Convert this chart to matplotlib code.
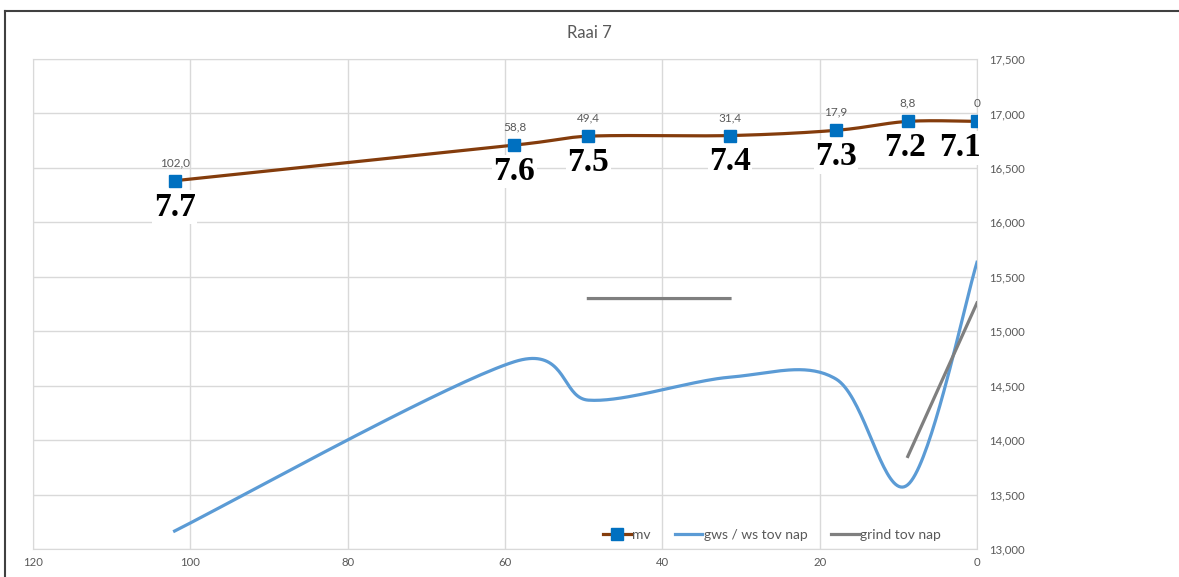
import numpy as np
import matplotlib.pyplot as plt
from matplotlib.lines import Line2D
from matplotlib.ticker import FuncFormatter

# afstand (x) and hoogtes per reeks
afstand = [102.0, 58.8, 49.4, 31.4, 17.9, 8.8, 0.0]
mv = [16382, 16709, 16791, 16797, 16845, 16927, 16927]
gws = [13165, 14720, 14367, 14578, 14560, 13590, 15633]
grind = [np.nan, np.nan, 15300, 15300, np.nan, 13850, 15260]
afstand_labels = ['102,0', '58,8', '49,4', '31,4', '17,9', '8,8', '0']
punt_labels = ['7.7', '7.6', '7.5', '7.4', '7.3', '7.2', '7.1']

plt.rcParams['font.family'] = ['Lato', 'DejaVu Sans']
grijs = '#595959'

# excel-like smoothing (bezier through the points), done in pixel-ish space
SX, SY = 944 / 120, 490 / 4500


def smooth(xs, ys, n=40):
    P = np.column_stack([np.asarray(xs) * SX, np.asarray(ys) * SY])
    out = []
    for i in range(len(P) - 1):
        p0 = P[i - 1] if i > 0 else P[i]
        p1, p2 = P[i], P[i + 1]
        p3 = P[i + 2] if i + 2 < len(P) else P[i + 1]
        v1 = (p2 - p0) / 6
        v2 = (p3 - p1) / 6
        L = np.hypot(*(p2 - p1))
        d = np.hypot(*v1) + np.hypot(*v2)
        if d > L:
            v1, v2 = v1 * L / d, v2 * L / d
        c1, c2 = p1 + v1, p2 - v2
        t = np.linspace(0, 1, n)[:, None]
        out.append((1 - t) ** 3 * p1 + 3 * (1 - t) ** 2 * t * c1
                   + 3 * (1 - t) * t ** 2 * c2 + t ** 3 * p2)
    out = np.vstack(out)
    return out[:, 0] / SX, out[:, 1] / SY


fig = plt.figure(figsize=(11.79, 5.77), dpi=100)
ax = fig.add_axes([33 / 1179, 1 - 549 / 577, 944 / 1179, 490 / 577])

sx, sy = smooth(afstand, mv)
ax.plot(sx, sy, color='#843C0C', lw=2.3, zorder=4)
ax.plot(afstand, mv, ls='none', marker='s', ms=8.5, color='#0070C0', zorder=5)

gx, gy = smooth(afstand, gws)
ax.plot(gx, gy, color='#5B9BD5', lw=2.3, zorder=3)

ax.plot(afstand, grind, color='#7F7F7F', lw=2.3, zorder=3)

for x, y, lab in zip(afstand, mv, afstand_labels):
    ax.annotate(lab, (x, y), xytext=(0, 9), textcoords='offset points',
                ha='center', va='bottom', fontsize=8.5, color=grijs)

dxs = [0, 0, 0, 0, 0, -2, -12]
for x, y, lab, dx in zip(afstand, mv, punt_labels, dxs):
    ax.annotate(lab, (x, y), xytext=(dx, -19), textcoords='offset points',
                ha='center', va='center', fontsize=24, fontweight='bold',
                family='Liberation Serif', color='black', zorder=6,
                bbox=dict(facecolor='white', edgecolor='none', pad=1))

ax.set_xlim(120, 0)
ax.set_ylim(13000, 17500)
ax.set_xticks(range(0, 121, 20))
ax.set_yticks(range(13000, 17501, 500))
ax.yaxis.tick_right()
ax.yaxis.set_major_formatter(FuncFormatter(lambda v, p: f'{v:,.0f}'))
ax.tick_params(axis='y', length=0, pad=9, labelsize=8.2, labelcolor=grijs)
ax.tick_params(axis='x', length=0, pad=6, labelsize=8.2, labelcolor=grijs)
ax.grid(True, color='#D9D9D9', lw=1)
ax.set_axisbelow(True)
for s in ax.spines.values():
    s.set_color('#D9D9D9')

handles = [
    Line2D([], [], color='#843C0C', lw=2.3, marker='s', ms=8.5,
           mfc='#0070C0', mec='#0070C0'),
    Line2D([], [], color='#5B9BD5', lw=2.3),
    Line2D([], [], color='#7F7F7F', lw=2.3),
]
ax.legend(handles, ['mv', 'gws / ws tov nap', 'grind tov nap'], ncol=3,
          loc='center right', bbox_to_anchor=(0.962, 0.029), frameon=False,
          fontsize=10, labelcolor=grijs, handlelength=2.0, handletextpad=0.1,
          columnspacing=1.7, borderpad=0, borderaxespad=0)

fig.text(0.5, 1 - 33 / 577, 'Raai 7', ha='center', va='center',
         fontsize=12, color=grijs)

# chart frame (left and top visible)
fig.add_artist(Line2D([5 / 1179, 5 / 1179], [0, 1 - 11 / 577],
                      transform=fig.transFigure, color='#404040', lw=1.5))
fig.add_artist(Line2D([5 / 1179, 1], [1 - 11 / 577, 1 - 11 / 577],
                      transform=fig.transFigure, color='#404040', lw=1.5))

fig.savefig('out.png', dpi=100)
